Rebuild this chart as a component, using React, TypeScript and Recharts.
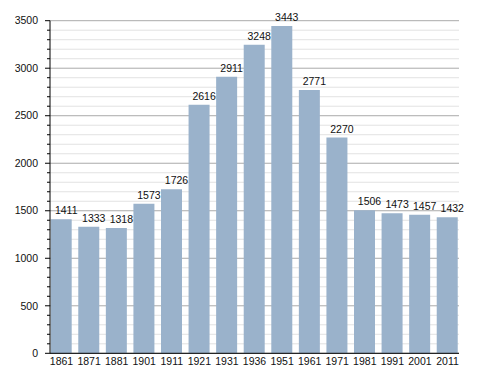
import React from 'react';
import {
  BarChart,
  Bar,
  XAxis,
  YAxis,
  CartesianGrid,
  LabelList
} from 'recharts';

const years = ['1861', '1871', '1881', '1901', '1911', '1921', '1931', '1936', '1951', '1961', '1971', '1981', '1991', '2001', '2011'];
const population = [1411, 1333, 1318, 1573, 1726, 2616, 2911, 3248, 3443, 2771, 2270, 1506, 1473, 1457, 1432];
// ticks every 100, labelled every 500
const yTicks = [
  0, 100, 200, 300, 400, 500, 600, 700, 800, 900,
  1000, 1100, 1200, 1300, 1400, 1500, 1600, 1700, 1800, 1900,
  2000, 2100, 2200, 2300, 2400, 2500, 2600, 2700, 2800, 2900,
  3000, 3100, 3200, 3300, 3400, 3500
];

const data = years.map((year, i) => ({ year, value: population[i] }));

const font = '"Liberation Sans", Arial, sans-serif';
const textColor = '#111';
const tickGap = 12; // tickSize + tickMargin on the y axis

const YTick = (props: any) => {
  const { x, y, payload } = props;
  const major = payload.value % 500 === 0;
  const axisX = x + tickGap;
  return (
    <g>
      <line x1={axisX - (major ? 5 : 3)} y1={y} x2={axisX} y2={y} stroke="#000" strokeWidth={1} />
      {major && (
        <text x={x} y={y} dy="0.355em" textAnchor="end" fill={textColor} fontSize={10.5} fontFamily={font}>
          {payload.value}
        </text>
      )}
    </g>
  );
};

const GridLine = (props: any) => {
  const { x1, y1, x2, y2, index } = props;
  const major = yTicks[index] % 500 === 0;
  return (
    <line x1={x1} y1={y1} x2={x2} y2={y2} stroke={major ? '#aaaaaa' : '#e2e2e2'} strokeWidth={1} />
  );
};

// value label, sits a little right of the bar centre like the original
const ValueLabel = (props: any) => {
  const { x, y, width, value } = props;
  return (
    <text
      x={x + width / 2 + 5}
      y={y - 5}
      textAnchor="middle"
      fill={textColor}
      fontSize={10.5}
      fontFamily={font}
    >
      {value}
    </text>
  );
};

const App: React.FC = () => {
  return (
    <div style={{ width: 480, height: 365, fontFamily: font }}>
      <BarChart
        width={480}
        height={365}
        data={data}
        margin={{ top: 12.7, right: 29, left: 0, bottom: 0 }}
      >
        <CartesianGrid vertical={false} horizontal={GridLine} />

        <XAxis
          dataKey="year"
          interval={0}
          height={19.7}
          padding={{ left: -2.3, right: -2.3 }}
          axisLine={{ stroke: '#000', strokeWidth: 1 }}
          tickLine={false}
          tickSize={0}
          tickMargin={4}
          tick={{ fill: textColor, fontSize: 10.5, fontFamily: font }}
        />

        <YAxis
          width={42}
          domain={[0, 3500]}
          ticks={yTicks}
          interval={0}
          axisLine={{ stroke: '#000', strokeWidth: 1 }}
          tickLine={false}
          tickSize={5}
          tickMargin={7}
          tick={<YTick />}
        />

        <Bar
          dataKey="value"
          fill="#9ab2cb"
          barSize={21}
          isAnimationActive={false}
        >
          <LabelList dataKey="value" content={<ValueLabel />} />
        </Bar>
      </BarChart>
    </div>
  );
};

export default App;
